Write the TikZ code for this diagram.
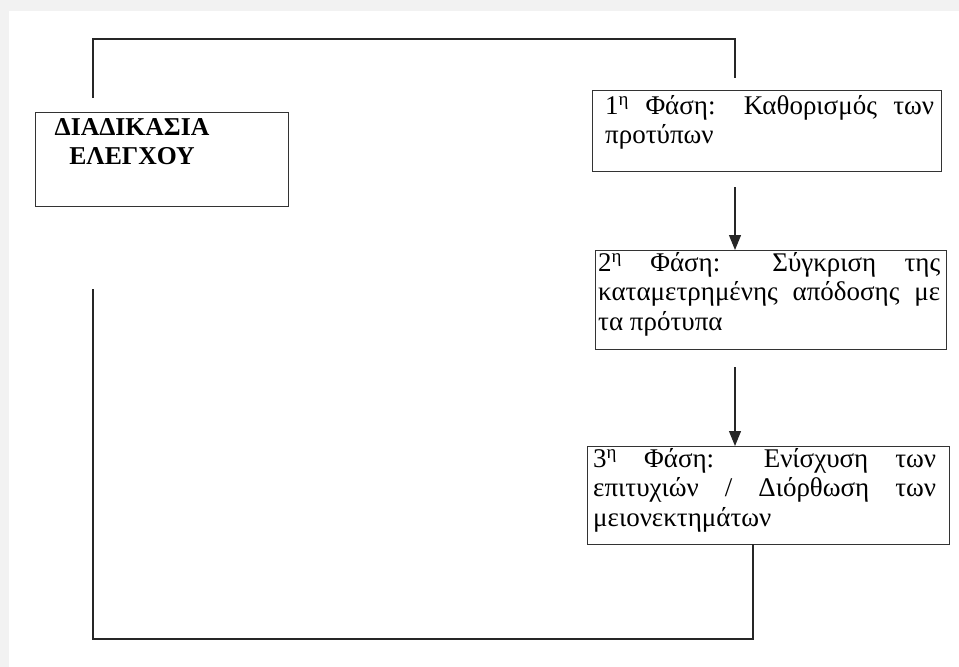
\documentclass[tikz,border=0pt]{standalone}
\usepackage{fontspec}
\setmainfont{Liberation Serif}
\usetikzlibrary{arrows.meta}
\begin{document}
\begin{tikzpicture}[x=1pt,y=-1pt,
  box/.style={draw=black!80, line width=1.1pt, inner sep=0pt, anchor=north west},
  txt/.style={inner sep=0pt, anchor=north west, align=justify,
    font=\fontsize{27}{29.5}\selectfont},
  conn/.style={draw=black!85, line width=1.2pt},
  arr/.style={conn, -{Triangle[length=15pt,width=12pt]}}]
\useasboundingbox (0,0) rectangle (959,667);
\fill[gray!10] (0,0) rectangle (959,11);
\fill[gray!10] (0,0) rectangle (9,667);
% boxes
\node[box, minimum width=253pt, minimum height=94pt] (ctrl) at (35,112) {};
\node[box, minimum width=349pt, minimum height=81pt] (p1) at (592,90) {};
\node[box, minimum width=351pt, minimum height=99pt] (p2) at (595,250) {};
\node[box, minimum width=362pt, minimum height=98pt] (p3) at (587,446) {};
% texts
\node[inner sep=0pt, anchor=north, align=center, font=\bfseries\fontsize{25.7}{29}\selectfont] (ctrlt) at (132,118) {ΔΙΑΔΙΚΑΣΙΑ\\ΕΛΕΓΧΟΥ};
\node[txt, text width=329pt] (t1) at (605,95) {1\textsuperscript{η} Φάση: Καθορισμός των\linebreak προτύπων};
\node[txt, text width=342pt] (t2) at (598,252) {2\textsuperscript{η} Φάση: Σύγκριση της\linebreak καταμετρημένης απόδοσης με\linebreak τα πρότυπα};
\node[txt, text width=343pt] (t3) at (593,448) {3\textsuperscript{η} Φάση: Ενίσχυση των\linebreak επιτυχιών / Διόρθωση των\linebreak μειονεκτημάτων};
% connector coordinates
\coordinate (a1s) at (735,187);
\coordinate (a2s) at (735,367);
\coordinate (tl) at (93,98);
\coordinate (tlc) at (93,39);
\coordinate (trc) at (735,39);
\coordinate (tr) at (735,78);
\coordinate (b3) at (753,544);
\coordinate (brc) at (753,639);
\coordinate (blc) at (93,639);
\coordinate (bl) at (93,289);
% connectors
\draw[arr] (a1s) -- (a1s |- p2.north);
\draw[arr] (a2s) -- (a2s |- p3.north);
\draw[conn] (tl) -- (tlc) -- (trc) -- (tr);
\draw[conn] (b3) -- (brc) -- (blc) -- (bl);
\end{tikzpicture}
\end{document}
